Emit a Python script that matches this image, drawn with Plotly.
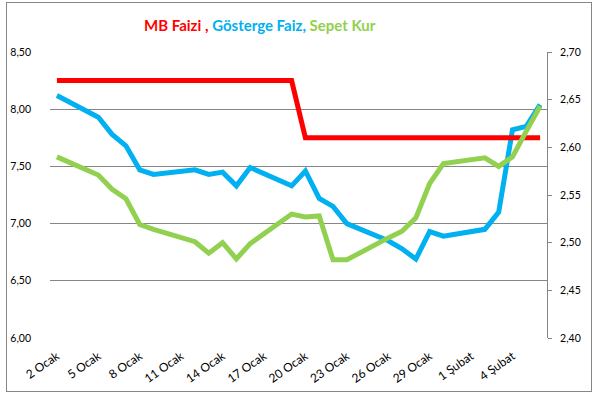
import plotly.graph_objects as go

dates = ["2015-01-02", "2015-01-05", "2015-01-06", "2015-01-07", "2015-01-08", "2015-01-09",
         "2015-01-12", "2015-01-13", "2015-01-14", "2015-01-15", "2015-01-16",
         "2015-01-19", "2015-01-20", "2015-01-21", "2015-01-22", "2015-01-23",
         "2015-01-26", "2015-01-27", "2015-01-28", "2015-01-29", "2015-01-30",
         "2015-02-02", "2015-02-03", "2015-02-04", "2015-02-05", "2015-02-06"]

mb_faizi = [8.25, 8.25, 8.25, 8.25, 8.25, 8.25,
            8.25, 8.25, 8.25, 8.25, 8.25,
            8.25, 7.75, 7.75, 7.75, 7.75,
            7.75, 7.75, 7.75, 7.75, 7.75,
            7.75, 7.75, 7.75, 7.75, 7.75]

gosterge_faiz = [8.12, 7.93, 7.78, 7.68, 7.47, 7.43,
                 7.47, 7.43, 7.45, 7.33, 7.49,
                 7.33, 7.46, 7.22, 7.15, 7.00,
                 6.85, 6.78, 6.69, 6.93, 6.89,
                 6.95, 7.10, 7.82, 7.85, 8.04]

sepet_kur = [2.590, 2.571, 2.556, 2.546, 2.519, 2.514,
             2.501, 2.489, 2.500, 2.483, 2.499,
             2.530, 2.527, 2.528, 2.482, 2.482,
             2.505, 2.512, 2.526, 2.562, 2.583,
             2.589, 2.580, 2.590, 2.617, 2.643]

tick_dates = ["2015-01-02", "2015-01-05", "2015-01-08", "2015-01-11", "2015-01-14", "2015-01-17",
              "2015-01-20", "2015-01-23", "2015-01-26", "2015-01-29", "2015-02-01", "2015-02-04"]
tick_labels = ["2 Ocak", "5 Ocak", "8 Ocak", "11 Ocak", "14 Ocak", "17 Ocak",
               "20 Ocak", "23 Ocak", "26 Ocak", "29 Ocak", "1 Şubat", "4 Şubat"]

FONT = "Lato, 'Open Sans', sans-serif"
GRID = "#868686"

# paper = bordered chart area (7..591 x 3..391 px); plot area 50..547 x 52..338 px
PW, PH = 584.0, 388.0
px = lambda v: (v - 7) / PW
py = lambda v: (391 - v) / PH

fig = go.Figure()
# empty trace that owns the frame axes (chart border)
fig.add_trace(go.Scatter(x=[], y=[], xaxis="x3", yaxis="y3", hoverinfo="skip",
                         showlegend=False))
fig.add_trace(go.Scatter(x=dates, y=gosterge_faiz, mode="lines", name="Gösterge Faiz",
                         line=dict(color="#00B0F0", width=5), yaxis="y"))
fig.add_trace(go.Scatter(x=dates, y=mb_faizi, mode="lines", name="MB Faizi",
                         line=dict(color="#FF0000", width=5), yaxis="y"))
fig.add_trace(go.Scatter(x=dates, y=sepet_kur, mode="lines", name="Sepet Kur",
                         line=dict(color="#92D050", width=5), yaxis="y2"))

frame_axis = dict(domain=[0, 1], range=[0, 1], showline=True, mirror=True,
                  linecolor=GRID, linewidth=1, showgrid=False, zeroline=False,
                  showticklabels=False, ticks="", fixedrange=True)

fig.update_layout(
    width=600, height=399,
    margin=dict(l=7, r=9, t=3, b=8, autoexpand=False),
    paper_bgcolor="white", plot_bgcolor="rgba(0,0,0,0)",
    showlegend=False,
    separators=",.",
    font=dict(family=FONT, size=12, color="black"),
    xaxis=dict(type="date", range=["2015-01-01 12:00", "2015-02-06 12:00"],
               domain=[px(50), px(547)],
               tickvals=tick_dates, ticktext=tick_labels, tickangle=-35,
               showgrid=False, zeroline=False, showline=False, ticks="",
               ticklabelstandoff=8, automargin=False,
               tickfont=dict(family=FONT, size=12)),
    yaxis=dict(range=[6, 8.5], dtick=0.5, tick0=6, tickformat=".2f",
               domain=[py(338), py(52)],
               showgrid=True, gridcolor=GRID, gridwidth=1, zeroline=False,
               showline=False, ticks="", ticklabelstandoff=18, automargin=False,
               tickfont=dict(family=FONT, size=10.5)),
    yaxis2=dict(range=[2.4, 2.7], dtick=0.05, tick0=2.4, tickformat=".2f",
                overlaying="y", side="right", showgrid=False, zeroline=False,
                showline=True, linecolor=GRID, linewidth=1,
                ticks="outside", ticklen=4, tickcolor=GRID,
                ticklabelstandoff=6, automargin=False,
                tickfont=dict(family=FONT, size=10.5)),
    xaxis3=dict(anchor="y3", **frame_axis),
    yaxis3=dict(anchor="x3", **frame_axis),
    annotations=[dict(xref="paper", yref="paper", x=px(260), y=py(25),
                      xanchor="center", yanchor="middle", showarrow=False,
                      text="<b><span style='color:#FF0000'>MB Faizi ,</span> "
                           "<span style='color:#00B0F0'>Gösterge Faiz,</span> "
                           "<span style='color:#92D050'>Sepet Kur</span></b>",
                      font=dict(family=FONT, size=15))],
)

fig.write_html("out.html", config={"displayModeBar": False},
               post_script="document.body.style.margin='0';document.body.style.padding='0';")
